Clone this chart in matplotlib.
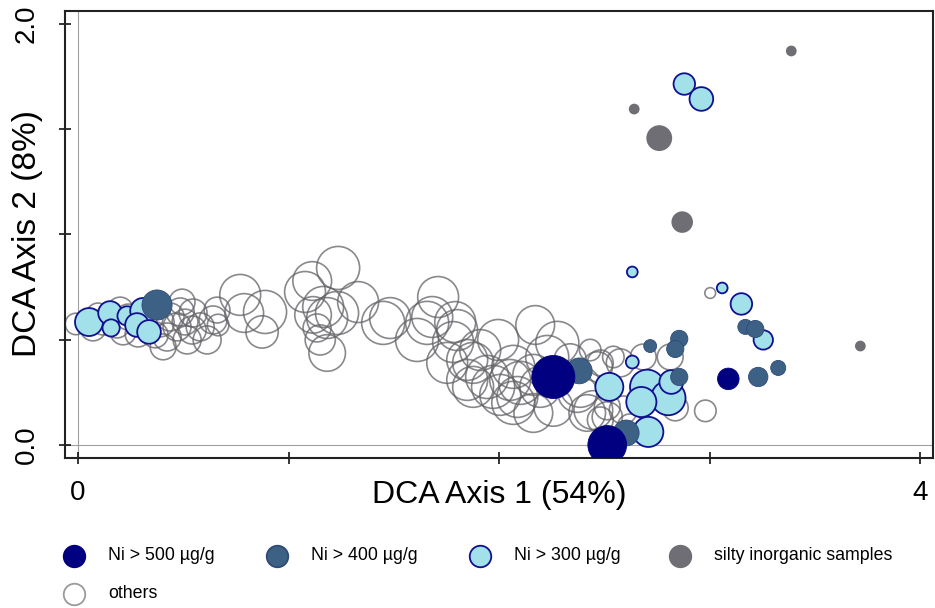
import numpy as np
import matplotlib
matplotlib.use("Agg")
import matplotlib.pyplot as plt
from matplotlib.lines import Line2D

plt.rcParams['font.family'] = ['Liberation Sans', 'DejaVu Sans']

# DCA scores: (axis 1, axis 2, relative bubble size)
ni500_x = [2.257, 2.513, 3.088]
ni500_y = [0.323, 0.000, 0.314]
ni500_w = [20, 18, 10]

ni400_x = [0.375, 2.380, 2.603, 2.717, 2.855, 2.836, 2.855, 3.169, 3.216, 3.230, 3.325]
ni400_y = [0.665, 0.352, 0.057, 0.470, 0.504, 0.456, 0.323, 0.561, 0.551, 0.323, 0.366]
ni400_w = [14, 12, 12, 6, 8, 8, 8, 7, 8, 9, 7]

ni300_x = [0.052, 0.152, 0.157, 0.233, 0.309, 0.280, 0.337,
           2.879, 2.960, 2.632, 3.059, 3.150, 3.254, 2.632, 2.523, 2.703,
           2.803, 2.817, 2.675, 2.708]
ni300_y = [0.584, 0.627, 0.556, 0.613, 0.637, 0.570, 0.537,
           1.715, 1.644, 0.822, 0.746, 0.670, 0.499, 0.394, 0.276, 0.276,
           0.223, 0.299, 0.204, 0.062]
ni300_w = [13, 11, 8, 9, 12, 11, 11,
           10, 11, 5, 5, 10, 9, 6, 13, 16, 16, 11, 14, 14]

silty_x = [3.387, 2.641, 2.760, 2.869, 3.715]
silty_y = [1.872, 1.596, 1.458, 1.059, 0.470]
silty_w = [5, 5, 12, 10, 5]

others_x = [-0.010, 0.071, 0.119, 0.185, 0.214, 0.238, 0.200, 0.285, 0.095, 0.390,
            0.423, 0.437, 0.485, 0.546, 0.580, 0.613, 0.518, 0.470, 0.542, 0.404,
            0.641, 0.494, 0.342, 0.366, 0.508, 0.660,
            0.665, 0.770, 0.789, 0.888, 0.874, 1.235, 1.112, 1.078, 1.164, 1.116,
            1.230, 1.183, 1.330, 1.135, 1.183, 1.150, 1.449, 1.482, 1.610, 1.710,
            1.682, 1.791, 1.658, 1.781, 1.800, 1.753, 1.848, 1.876, 1.943, 1.910,
            1.995, 2.067, 1.971, 2.100, 2.171, 2.276, 2.228, 2.162, 2.257, 2.067,
            2.162, 2.385, 2.466, 2.447, 2.542, 1.848, 2.005, 2.337, 2.432, 2.052,
            2.195, 2.371, 2.418, 2.513, 2.086, 1.876, 2.480, 2.575, 2.684, 2.812,
            2.836, 2.589, 2.513, 2.622, 2.480, 2.979, 3.002]
others_y = [0.575, 0.556, 0.584, 0.570, 0.537, 0.608, 0.641, 0.527, 0.618, 0.580,
            0.513, 0.608, 0.632, 0.627, 0.561, 0.499, 0.499, 0.561, 0.546, 0.466,
            0.594, 0.679, 0.603, 0.523, 0.584, 0.641,
            0.570, 0.713, 0.627, 0.632, 0.537, 0.841, 0.779, 0.727, 0.656, 0.618,
            0.627, 0.603, 0.679, 0.556, 0.437, 0.499, 0.580, 0.603, 0.499, 0.703,
            0.608, 0.584, 0.580, 0.489, 0.546, 0.390, 0.404, 0.390, 0.323, 0.451,
            0.499, 0.371, 0.276, 0.295, 0.570, 0.485, 0.418, 0.333, 0.181, 0.200,
            0.152, 0.276, 0.371, 0.166, 0.418, 0.309, 0.238, 0.404, 0.451, 0.309,
            0.276, 0.247, 0.152, 0.133, 0.228, 0.276, 0.390, 0.390, 0.418, 0.418,
            0.176, 0.166, 0.181, 0.086, 0.119, 0.162, 0.722]
others_w = [10, 12, 12, 12, 12, 12, 12, 12, 11, 13,
            13, 13, 13, 13, 13, 13, 13, 13, 13, 12,
            13, 12, 12, 12, 12, 12,
            10, 19, 18, 20, 15, 20, 18, 19, 19, 17,
            20, 19, 19, 13, 17, 14, 20, 19, 20, 19,
            19, 19, 20, 19, 19, 19, 19, 19, 20, 19,
            19, 20, 20, 20, 18, 20, 20, 19, 18, 20,
            18, 19, 14, 18, 10, 19, 19, 15, 10, 19,
            19, 18, 17, 14, 19, 19, 12, 13, 12, 12,
            12, 13, 12, 12, 12, 10, 5]

legend_labels = ['Ni > 500 \u00b5g/g', 'Ni > 400 \u00b5g/g', 'Ni > 300 \u00b5g/g',
                 'silty inorganic samples', 'others']


def area(w):
    # bubble value -> scatter area (points^2)
    return 2.4 * np.asarray(w, dtype=float) ** 2


fig = plt.figure(figsize=(9.35, 6.08), dpi=100)
ax = fig.add_axes([65 / 935, 1 - 458 / 608, 868 / 935, 447 / 608])

ax.axhline(0, color='#a0a0a0', lw=0.8, zorder=0)
ax.axvline(0, color='#a0a0a0', lw=0.8, zorder=0)

ax.scatter(others_x, others_y, s=area(others_w), facecolors='none',
           edgecolors='#626267', linewidths=1.2, alpha=0.75, zorder=2)
ax.scatter(silty_x, silty_y, s=area(silty_w), c='#6e6e74', edgecolors='none', zorder=3)
ax.scatter(ni300_x, ni300_y, s=area(ni300_w), c='#a2e0ea', edgecolors='#101090',
           linewidths=1.3, zorder=4)
ax.scatter(ni400_x, ni400_y, s=area(ni400_w), c='#3d6184', edgecolors='#2f4a78',
           linewidths=0.6, zorder=5)
ax.scatter(ni500_x, ni500_y, s=area(ni500_w), c='#000080', edgecolors='#000080',
           linewidths=0.6, zorder=6)

ax.set_xlim(-0.062, 4.06)
ax.set_ylim(-0.062, 2.062)

ax.set_xticks([0, 1, 2, 3, 4])
ax.set_xticklabels(['0', '', '', '', '4'], fontsize=20)
ax.set_yticks([0, 0.5, 1, 1.5, 2])
ax.set_yticklabels(['0.0', '', '', '', '2.0'], fontsize=20, rotation=90, va='center')
ax.tick_params(axis='x', direction='inout', length=8, width=1.1, pad=12)
ax.tick_params(axis='y', direction='inout', length=8, width=1.1, pad=14)

for sp in ax.spines.values():
    sp.set_linewidth(1.5)
    sp.set_color('#222222')

ax.set_xlabel('DCA Axis 1 (54%)', fontsize=23)
ax.xaxis.set_label_coords(0.5, -0.05)
ax.set_ylabel('DCA Axis 2 (8%)', fontsize=24, va='center')
ax.yaxis.set_label_coords(-37 / 868, 0.503)

# legend drawn manually in figure pixels
leg_face = ['#000080', '#3d6184', '#a2e0ea', '#6e6e74', 'white']
leg_edge = ['#000080', '#2f4a78', '#101090', '#6e6e74', '#9a9a9a']
leg_pos = [(74, 556), (277, 556), (480, 556), (680, 556), (74, 594)]
for lab, fc, ec, (px, py) in zip(legend_labels, leg_face, leg_edge, leg_pos):
    fig.add_artist(Line2D([px / 935], [1 - py / 608], marker='o', markersize=15.5,
                          markerfacecolor=fc, markeredgecolor=ec, markeredgewidth=1.3,
                          linestyle='none', transform=fig.transFigure))
    fig.text((px + 34) / 935, 1 - py / 608, lab, fontsize=12.8, va='center', ha='left')

fig.savefig('out.png', dpi=100)
